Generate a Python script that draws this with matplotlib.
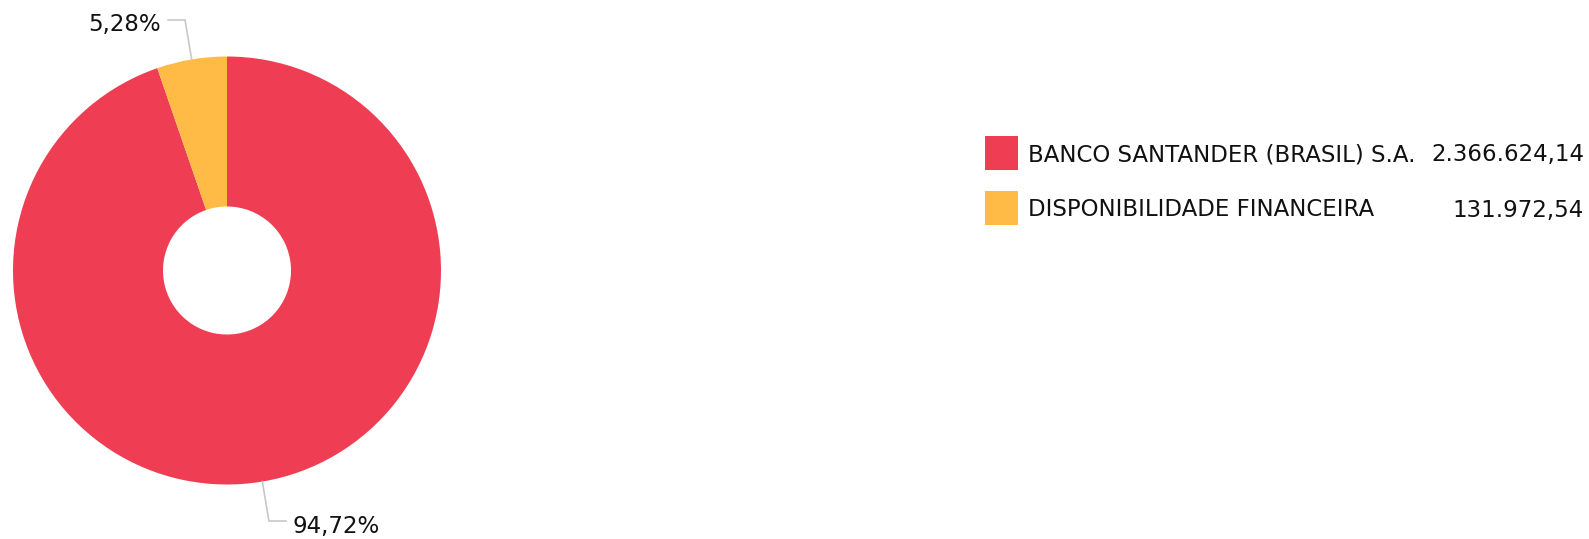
import numpy as np
import matplotlib.pyplot as plt
from matplotlib.patches import Rectangle

labels = ['BANCO SANTANDER (BRASIL) S.A.', 'DISPONIBILIDADE FINANCEIRA']
values = [2366624.14, 131972.54]
colors = ['#EF3E53', '#FFBB46']

W, H = 1589, 539


def br_num(v):
    s = f'{v:,.2f}'
    return s.replace(',', 'X').replace('.', ',').replace('X', '.')


plt.rcParams['font.family'] = ['Verdana', 'DejaVu Sans']
FS = 16.5

fig = plt.figure(figsize=(W / 100, H / 100), dpi=100)
ax = fig.add_axes([0, 0, 1, 1])
ax.set_xlim(0, W)
ax.set_ylim(0, H)
ax.set_aspect('equal')
ax.axis('off')

cx, cy, r = 227, 268.5, 214
hole = 64
wedges, _ = ax.pie(values, colors=colors, startangle=90, counterclock=False,
                   center=(cx, cy), radius=r,
                   wedgeprops=dict(width=r - hole, linewidth=0))
ax.set_xlim(0, W)
ax.set_ylim(0, H)

# rótulos de percentagem com linha guia
total = sum(values)
for w, v in zip(wedges, values):
    ang = np.deg2rad((w.theta1 + w.theta2) / 2)
    x0, y0 = cx + r * np.cos(ang), cy + r * np.sin(ang)
    x1, y1 = cx + (r + 40) * np.cos(ang), cy + (r + 40) * np.sin(ang)
    side = 1 if np.cos(ang) >= 0 else -1
    x2 = x1 + side * 17
    ax.plot([x0, x1, x2], [y0, y1, y1], color='#c8c8c8', lw=1.2,
            solid_joinstyle='miter')
    pct = f'{v / total * 100:.2f}%'.replace('.', ',')
    ax.text(x2 + side * 7, y1 - 5, pct, fontsize=FS, color='#111111',
            ha='left' if side > 0 else 'right', va='center')

# legenda
for i, (lab, v, c) in enumerate(zip(labels, values, colors)):
    y = H - 153 - i * 55
    ax.add_patch(Rectangle((985, y - 17), 33, 34, color=c, lw=0))
    ax.text(1028, y - 2, lab, fontsize=FS, color='#111111', va='center', ha='left')
    ax.text(1584, y - 2, br_num(v), fontsize=FS, color='#111111',
            va='center', ha='right')

fig.savefig('out.png', dpi=100)
